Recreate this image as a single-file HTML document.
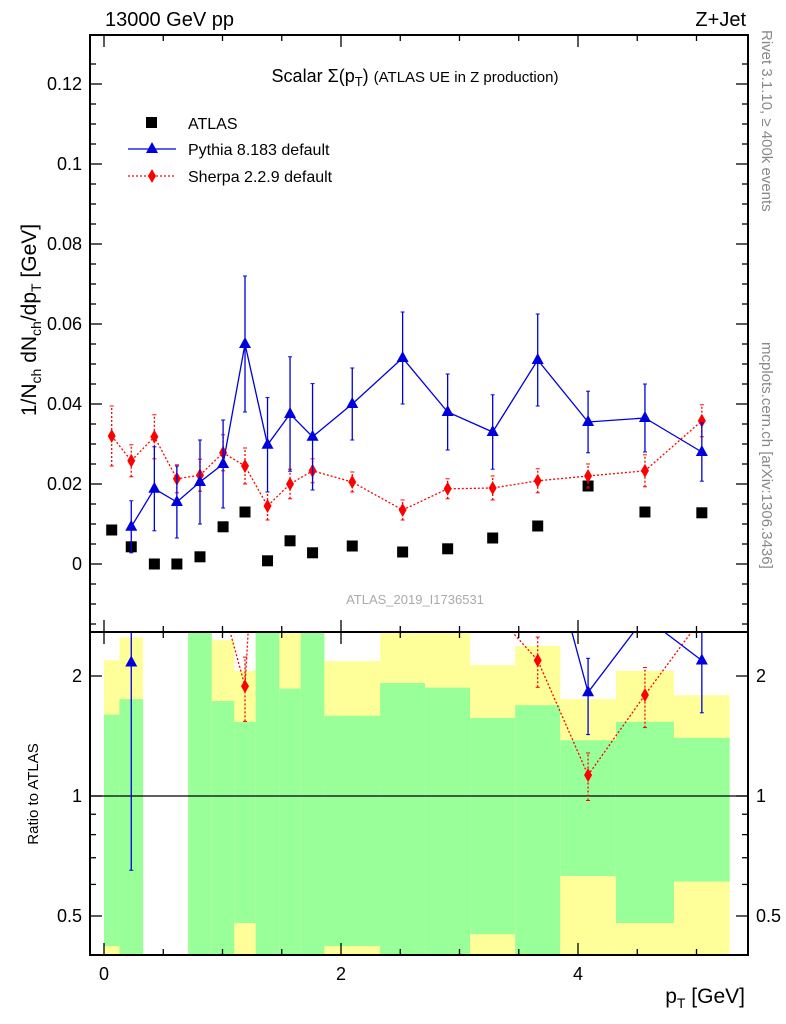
<!DOCTYPE html>
<html><head><meta charset="utf-8"><style>
body{margin:0;background:#fff;}
svg{display:block;font-family:"Liberation Sans",sans-serif;}
</style></head><body>
<svg id="chart" width="786" height="1024" viewBox="0 0 786 1024" xmlns="http://www.w3.org/2000/svg">
<defs>
<clipPath id="cMain"><rect x="90" y="35" width="658" height="597"/></clipPath>
<clipPath id="cRatio"><rect x="90" y="632" width="658" height="323"/></clipPath>
</defs>
<g id="bands" clip-path="url(#cRatio)"></g>
<g id="marks"></g>
<rect x="90" y="35" width="658" height="597" fill="none" stroke="#000" stroke-width="2"/>
<rect x="90" y="632" width="658" height="323" fill="none" stroke="#000" stroke-width="2"/>
<g id="ticks"></g>
<text x="105" y="26" font-size="20">13000 GeV pp</text>
<text x="746" y="26" font-size="20" text-anchor="end">Z+Jet</text>
<text x="415" y="82" font-size="18" text-anchor="middle">Scalar Σ(p<tspan font-size="13" dy="4">T</tspan><tspan dy="-4">) </tspan><tspan font-size="15">(ATLAS UE in Z production)</tspan></text>
<text x="415" y="604" font-size="13" fill="#aaa" text-anchor="middle">ATLAS_2019_I1736531</text>
<text transform="translate(36,320) rotate(-90)" font-size="21" text-anchor="middle">1/N<tspan font-size="14" dy="5">ch</tspan><tspan dy="-5"> dN</tspan><tspan font-size="14" dy="5">ch</tspan><tspan dy="-5">/dp</tspan><tspan font-size="14" dy="5">T</tspan><tspan dy="-5"> [GeV]</tspan></text>
<text transform="translate(38,794) rotate(-90)" font-size="15" text-anchor="middle">Ratio to ATLAS</text>
<text x="745" y="1003" font-size="21" text-anchor="end">p<tspan font-size="14" dy="5">T</tspan><tspan dy="-5"> [GeV]</tspan></text>
<text transform="translate(762,30) rotate(90)" font-size="15" fill="#888">Rivet 3.1.10, ≥ 400k events</text>
<text transform="translate(762,342) rotate(90)" font-size="15" fill="#888">mcplots.cern.ch [arXiv:1306.3436]</text>
<g>
<rect x="146" y="117" width="11" height="11" fill="#000"/>
<text x="188" y="129" font-size="16">ATLAS</text>
<line x1="128" y1="149" x2="176" y2="149" stroke="#0000dd" stroke-width="1.3"/>
<polygon points="152,142 158,153 146,153" fill="#0000dd"/>
<text x="188" y="155" font-size="16">Pythia 8.183 default</text>
<line x1="128" y1="176" x2="176" y2="176" stroke="#f00" stroke-width="1.3" stroke-dasharray="2,2"/>
<polygon points="152,169 156,176 152,183 148,176" fill="#f00"/>
<text x="188" y="182" font-size="16">Sherpa 2.2.9 default</text>
</g>
</svg>
<script>
const edges=[0,0.13,0.33,0.52,0.71,0.91,1.1,1.28,1.48,1.66,1.86,2.33,2.71,3.09,3.47,3.85,4.32,4.81,5.28];
const atlas=[0.0085,0.0043,0,0,0.0018,0.0093,0.013,0.0008,0.0058,0.0028,0.0045,0.003,0.0038,0.0065,0.0095,0.0195,0.013,0.0128];
const pythia=[null,0.0093,0.0188,0.0155,0.0205,0.025,0.055,0.0298,0.0375,0.0318,0.04,0.0515,0.038,0.033,0.051,0.0355,0.0365,0.028];
const pythiaErr=[null,0.0065,0.0105,0.009,0.0105,0.011,0.017,0.0118,0.0143,0.0133,0.009,0.0115,0.0095,0.0093,0.0115,0.0077,0.0085,0.0073];
const sherpa=[0.032,0.0258,0.0318,0.0213,0.0222,0.0278,0.0245,0.0145,0.02,0.0233,0.0205,0.0135,0.0188,0.019,0.0208,0.022,0.0233,0.0358];
const sherpaErr=[0.0075,0.004,0.0055,0.0035,0.004,0.0045,0.0045,0.0035,0.0037,0.003,0.0025,0.0025,0.0025,0.003,0.003,0.003,0.004,0.004];
const yellowHi=[2.19,2.5,null,null,3,2.46,2.06,3,3,3,2.18,3,3,2.13,2.38,1.75,2.06,1.79];
const greenHi=[1.6,1.75,null,null,3,1.73,1.535,3,1.86,3,1.59,1.92,1.87,1.57,1.69,1.38,1.535,1.4];
const greenLo=[0.42,0.3,null,null,0.3,0.3,0.48,0.3,0.3,0.3,0.42,0.3,0.3,0.45,0.3,0.63,0.48,0.61];
const yellowLo=[0.35,0.3,null,null,0.3,0.3,0.3,0.3,0.3,0.3,0.3,0.3,0.3,0.3,0.3,0.3,0.3,0.3];
const xTicks=[0,2,4], yTicks=[0,0.02,0.04,0.06,0.08,0.1,0.12], rTicks=[0.5,1,2];

const NS="http://www.w3.org/2000/svg";
const X=p=>104+118.5*p, Y=v=>564-4000*v, R=r=>796-398.6*Math.log10(r);
const RMAX=2.58;
function mk(tag,attrs,parent){const e=document.createElementNS(NS,tag);for(const k in attrs)e.setAttribute(k,attrs[k]);parent.appendChild(e);return e;}
const bands=document.getElementById('bands'), marks=document.getElementById('marks'), ticks=document.getElementById('ticks');
const cen=i=>(edges[i]+edges[i+1])/2;
for(let i=0;i<atlas.length;i++){
  if(yellowHi[i]==null)continue;
  const x0=X(edges[i]),w=X(edges[i+1])-x0;
  const y1=mk('rect',{x:x0,y:R(yellowHi[i]),width:w,height:R(yellowLo[i])-R(yellowHi[i]),fill:'#ffff99'},bands);
  
  
  const g1=mk('rect',{x:x0,y:R(greenHi[i]),width:w,height:R(greenLo[i])-R(greenHi[i]),fill:'#99ff99'},bands);
  
  
}
mk('line',{x1:90,x2:748,y1:R(1),y2:R(1),stroke:'#000','stroke-width':1.3},marks);
const gm=mk('g',{'clip-path':'url(#cMain)'},marks), gr=mk('g',{'clip-path':'url(#cRatio)'},marks);
function series(vals,errs,color,dash,shape,name){
  [[gm,Y],[gr,R]].forEach(([g,F],k)=>{
    let pts=[];
    const flush=()=>{if(pts.length>1){const l=mk('polyline',{points:pts.join(' '),fill:'none',stroke:color,'stroke-width':1.3,'stroke-dasharray':dash},g);}pts=[];};
    for(let i=0;i<vals.length;i++){
      if(vals[i]==null){flush();continue;}
      let v=vals[i],lo=vals[i]-errs[i],hi=vals[i]+errs[i];
      if(k==1){if(!atlas[i]){flush();continue;}v/=atlas[i];lo=Math.max(lo/atlas[i],0.01);hi/=atlas[i];}
      const x=X(cen(i)),y=F(v);pts.push(x+','+y);
      if(k==1&&v>RMAX)continue;
      mk('line',{x1:x,x2:x,y1:F(lo),y2:F(hi),stroke:color,'stroke-width':1.3,'stroke-dasharray':dash},g);
      mk('line',{x1:x-2,x2:x+2,y1:F(lo),y2:F(lo),stroke:color,'stroke-width':1},g);
      mk('line',{x1:x-2,x2:x+2,y1:F(hi),y2:F(hi),stroke:color,'stroke-width':1},g);
      const p=shape=='tri'?mk('polygon',{points:`${x},${y-7} ${x+6},${y+4} ${x-6},${y+4}`,fill:color},g):mk('polygon',{points:`${x},${y-7} ${x+4},${y} ${x},${y+7} ${x-4},${y}`,fill:color},g);
      
      
    }
    flush();
  });
}
for(let i=0;i<atlas.length;i++){
  const s=mk('rect',{x:X(cen(i))-5.5,y:Y(atlas[i])-5.5,width:11,height:11,fill:'#000'},gm);
  
  
}
series(sherpa,sherpaErr,'#f00','2,2','dia','sherpa');
series(pythia,pythiaErr,'#0000dd','','tri','pythia');
function tk(x1,y1,x2,y2){mk('line',{x1,y1,x2,y2,stroke:'#000','stroke-width':1.3},ticks);}
for(let p=0;p<=5.2;p+=0.5){const x=X(p),maj=Math.abs(p%2)<1e-9;const L=maj?12:6;
  tk(x,632,x,632-L);tk(x,35,x,35+L);tk(x,955,x,955-L);tk(x,632,x,632+L);}
xTicks.forEach(p=>{const t=mk('text',{x:X(p),y:980,'font-size':18,'text-anchor':'middle'},ticks);t.textContent=p;});
for(let v=-0.015;v<=0.13;v+=0.005){const y=Y(v);const maj=Math.abs(Math.round(v*1000)%20)<1;const L=maj?12:6;tk(90,y,90+L,y);tk(748,y,748-L,y);}
yTicks.forEach(v=>{const t=mk('text',{x:82,y:Y(v)+6,'font-size':18,'text-anchor':'end'},ticks);t.textContent=v;});
[0.4,0.5,0.6,0.7,0.8,0.9,1,2].forEach(r=>{const y=R(r);const L=rTicks.includes(r)?12:6;tk(90,y,90+L,y);tk(748,y,748-L,y);});
rTicks.forEach(r=>{[[82,'end'],[756,'start']].forEach(([x,a])=>{const t=mk('text',{x,y:R(r)+6,'font-size':18,'text-anchor':a},ticks);t.textContent=r;});});
</script>
</body></html>
